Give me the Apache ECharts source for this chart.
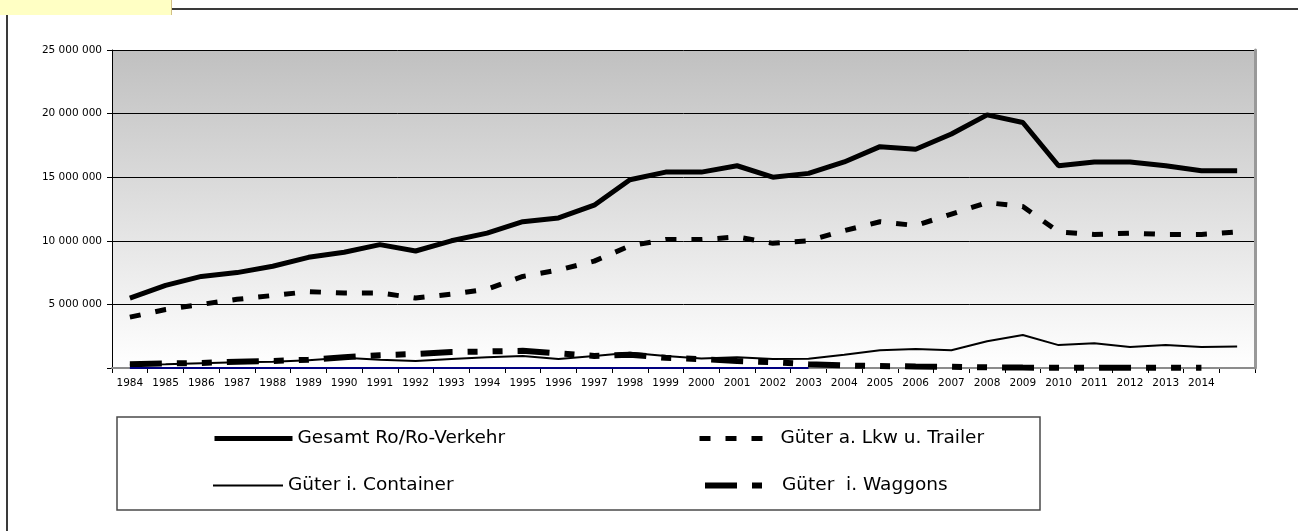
<!DOCTYPE html>
<html><head><meta charset="utf-8">
<script src="https://cdn.jsdelivr.net/npm/echarts@6/dist/echarts.min.js"></script>
<style>html,body{margin:0;padding:0;background:#fff}#c{width:1298px;height:531px}</style>
</head><body><div id="c"></div>
<script>
const years = ['1984','1985','1986','1987','1988','1989','1990','1991','1992','1993','1994','1995','1996','1997','1998','1999','2000','2001','2002','2003','2004','2005','2006','2007','2008','2009','2010','2011','2012','2013','2014',''];
const gesamt = [5.5,6.5,7.2,7.5,8.0,8.7,9.1,9.7,9.2,10.0,10.6,11.5,11.8,12.8,14.8,15.4,15.4,15.9,15.0,15.3,16.2,17.4,17.2,18.4,19.9,19.3,15.9,16.2,16.2,15.9,15.5,15.5].map(v=>v*1e6);
const lkw = [4.0,4.6,5.0,5.4,5.7,6.0,5.9,5.9,5.5,5.8,6.2,7.2,7.7,8.4,9.6,10.1,10.1,10.3,9.8,10.0,10.8,11.5,11.2,12.1,13.0,12.7,10.7,10.5,10.6,10.5,10.5,10.7].map(v=>v*1e6);
const container = [0.25,0.3,0.38,0.45,0.5,0.6,0.8,0.65,0.55,0.7,0.85,0.95,0.7,0.95,1.2,0.95,0.75,0.85,0.7,0.72,1.05,1.4,1.5,1.4,2.1,2.6,1.8,1.95,1.65,1.8,1.65,1.7].map(v=>v*1e6);
const waggons = [0.3,0.35,0.4,0.5,0.55,0.65,0.85,1.0,1.1,1.25,1.3,1.35,1.15,0.95,1.05,0.8,0.7,0.55,0.45,0.3,0.2,0.15,0.12,0.1,0.05,0.03,0.02,0.02,0.02,0.02,0.02,null].map(v=>v==null?null:v*1e6);
const nullLine = [0,0,0,0,0,0,0,0,0,0,0,0,0,0,0,0,0,0,0,0,null,null,null,null,null,null,null,null,null,null,null,null];
const names = ['Gesamt Ro/Ro-Verkehr','Güter a. Lkw u. Trailer','Güter i. Container','Güter  i. Waggons'];

function fmt(v){return v===0?'':String(v).replace(/\B(?=(\d{3})+(?!\d))/g,' ');}

const styles = {
  gesamt:{color:'#000', width:5, type:'solid'},
  lkw:{color:'#000', width:5, type:[11,15]},
  container:{color:'#000', width:2, type:'solid'},
  waggons:{color:'#000', width:6, type:[32,15,10,15,10,15]}
};

const chart = echarts.init(document.getElementById('c'));
function leg(name, left, top, ls, w){
  return {data:[name], left:left, top:top, padding:0, itemWidth:w, itemHeight:12, itemGap:0, selectedMode:false,
    textStyle:{fontFamily:'DejaVu Sans', fontSize:18.5, color:'#000'},
    lineStyle:{color:ls.color, width:ls.width, type:ls.type, dashOffset:0, cap:'butt'},
    itemStyle:{color:'rgba(0,0,0,0)', borderWidth:0, opacity:0}};
}
chart.setOption({
  animation:false,
  graphic:[
    {type:'line', shape:{x1:7,y1:9,x2:1298,y2:9}, style:{stroke:'#3a3a3a', lineWidth:2}, z:10},
    {type:'line', shape:{x1:7,y1:9,x2:7,y2:531}, style:{stroke:'#3a3a3a', lineWidth:2}, z:10},
    {type:'rect', shape:{x:0,y:0,width:172,height:15}, style:{fill:'#ffffc4'}, z:11},
    {type:'line', shape:{x1:171.5,y1:0,x2:171.5,y2:15}, style:{stroke:'#d2bf86', lineWidth:1}, z:11},
    {type:'rect', shape:{x:117,y:417,width:923,height:93}, style:{fill:'none', stroke:'#4a4a4a', lineWidth:1.5}, z:1}
  ],
  grid:{left:112, right:43, top:50, bottom:163, show:true, borderWidth:0,
    backgroundColor:{type:'linear',x:0,y:0,x2:0,y2:1,colorStops:[{offset:0,color:'#c0c0c0'},{offset:1,color:'#ffffff'}]}},
  legend:[
    leg(names[0], 212, 429, styles.gesamt, 78),
    leg(names[1], 697, 429, styles.lkw, 76),
    leg(names[2], 212, 476, styles.container, 70),
    leg(names[3], 702, 476, styles.waggons, 72)
  ],
  xAxis:[
    {type:'category', data:years, boundaryGap:true,
     axisLine:{lineStyle:{color:'#000', width:1}},
     axisTick:{show:true, length:5, interval:0, lineStyle:{color:'#000'}},
     axisLabel:{interval:0, margin:10, fontFamily:'DejaVu Sans', fontSize:10.5, color:'#000'},
     splitLine:{show:false}},
    {type:'category', data:years, position:'top', z:3,
     axisLine:{lineStyle:{color:'#8c8c8c', width:2}}, axisTick:{show:false}, axisLabel:{show:false}, splitLine:{show:false}}
  ],
  yAxis:[
    {type:'value', min:0, max:25000000, interval:5000000,
     axisLine:{show:true, lineStyle:{color:'#000', width:1}},
     axisTick:{show:true, length:5, lineStyle:{color:'#000'}},
     axisLabel:{margin:10, fontFamily:'DejaVu Sans', fontSize:10.5, color:'#000', formatter:fmt},
     splitLine:{show:true, lineStyle:{color:'#000', width:1}}},
    {type:'value', min:0, max:25000000, interval:5000000, position:'right', z:3,
     axisLine:{show:true, lineStyle:{color:'#999', width:3}}, axisTick:{show:false}, axisLabel:{show:false}, splitLine:{show:false}}
  ],
  series:[
    {name:'Nulllinie', type:'line', data:nullLine, symbol:'none', clip:false, lineStyle:{color:'#000080', width:2}, itemStyle:{color:'#000080'}, z:7},
    {name:names[3], type:'line', data:waggons, symbol:'none', lineStyle:styles.waggons, itemStyle:{color:'#000'}, z:3},
    {name:names[2], type:'line', data:container, symbol:'none', lineStyle:styles.container, itemStyle:{color:'#000'}, z:4},
    {name:names[1], type:'line', data:lkw, symbol:'none', lineStyle:styles.lkw, itemStyle:{color:'#000'}, z:5},
    {name:names[0], type:'line', data:gesamt, symbol:'none', lineStyle:styles.gesamt, itemStyle:{color:'#000'}, z:6}
  ]
});
</script></body></html>
